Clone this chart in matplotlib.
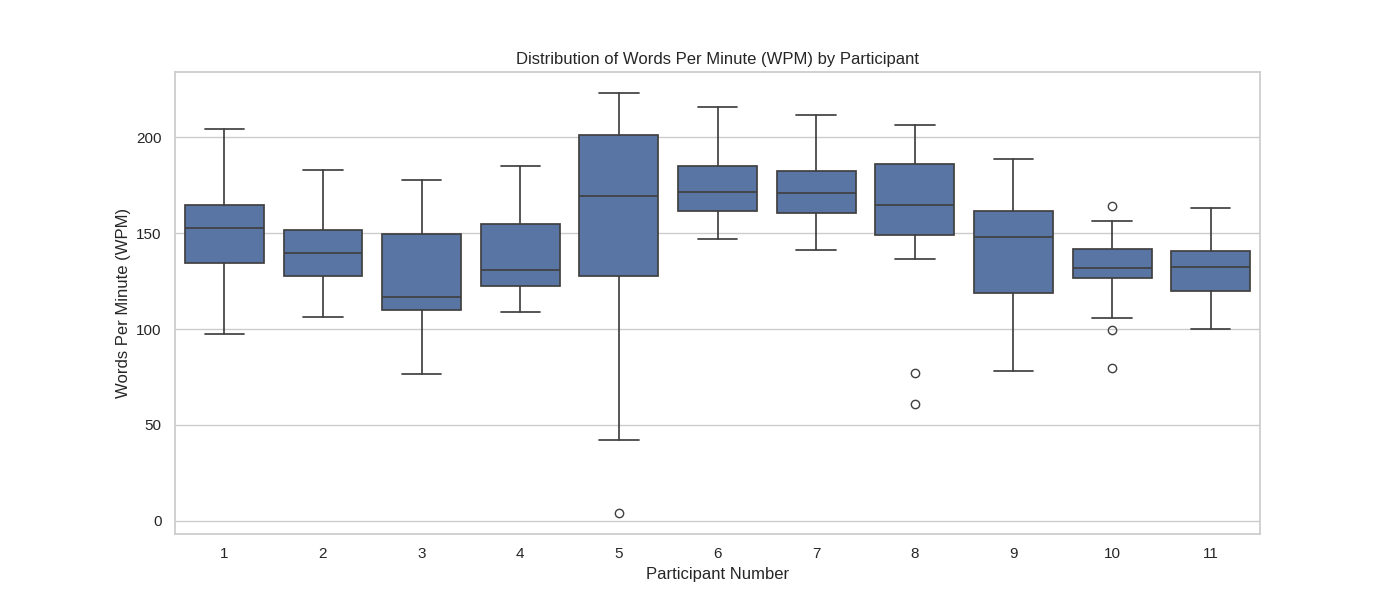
import matplotlib
matplotlib.use("Agg")
import matplotlib.pyplot as plt
import seaborn as sns

participants = ["1", "2", "3", "4", "5", "6", "7", "8", "9", "10", "11"]
whisker_low = [97.4, 106.3, 76.6, 108.9, 42.2, 146.9, 141.1, 136.5, 78.1, 105.7, 100.0]
q1 = [134.4, 127.6, 109.9, 122.4, 127.6, 161.5, 160.4, 149.0, 118.8, 126.6, 119.8]
median = [152.6, 139.6, 116.7, 130.7, 169.3, 171.4, 170.8, 164.6, 147.9, 131.8, 132.3]
q3 = [164.6, 151.6, 149.5, 154.7, 201.0, 184.9, 182.3, 185.9, 161.5, 141.7, 140.6]
whisker_high = [204.2, 182.8, 177.6, 184.9, 222.9, 215.6, 211.5, 206.3, 188.5, 156.2, 163.0]
fliers = [[], [], [], [], [4.2], [], [], [77.1, 60.9], [], [164.1, 99.5, 79.7], []]

sns.set_theme(style="whitegrid")
plt.rcParams['font.family'] = ['Liberation Sans', 'DejaVu Sans']
fig, ax = plt.subplots(figsize=(14, 6), dpi=100)

stats = []
for i, p in enumerate(participants):
    stats.append(dict(label=p, whislo=whisker_low[i], q1=q1[i], med=median[i],
                      q3=q3[i], whishi=whisker_high[i], fliers=fliers[i]))

face = sns.desaturate("#4c72b0", 0.75)
lc = "#404040"
ax.bxp(stats, positions=range(len(stats)), widths=0.8, patch_artist=True,
       boxprops=dict(facecolor=face, edgecolor=lc, linewidth=1.25),
       medianprops=dict(color=lc, linewidth=1.25),
       whiskerprops=dict(color=lc, linewidth=1.25),
       capprops=dict(color=lc, linewidth=1.25),
       flierprops=dict(marker="o", markerfacecolor="none", markeredgecolor=lc,
                       markersize=6, markeredgewidth=1.0),
       capwidths=0.4)
ax.set_xticks(range(len(participants)))
ax.set_xticklabels(participants)
ax.set_xlim(-0.5, len(participants) - 0.5)
ax.set_ylim(-6.8, 233.9)
ax.xaxis.grid(False)
ax.set_title("Distribution of Words Per Minute (WPM) by Participant")
ax.set_xlabel("Participant Number")
ax.set_ylabel("Words Per Minute (WPM)")
fig.savefig("out.png", dpi=100)
